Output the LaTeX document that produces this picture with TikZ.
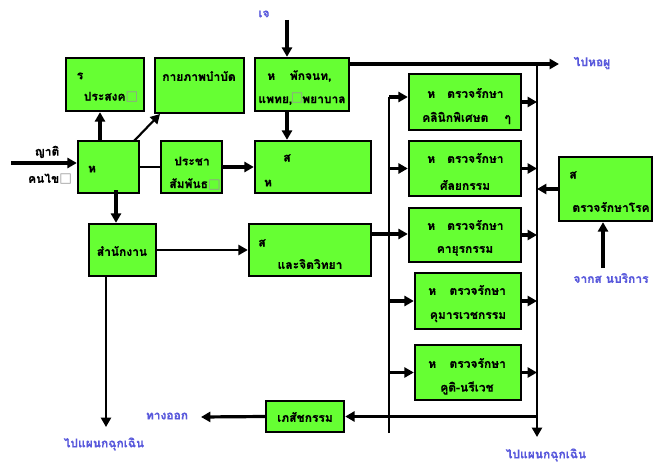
\documentclass[tikz,border=0pt]{standalone}
\usepackage{fontspec}
\newfontfamily\thaifont[Script=Thai,BoldFeatures={FakeBold=0.6}]{Loma}
\newfontfamily\symfont{DejaVu Sans}
\usetikzlibrary{arrows.meta}
\definecolor{boxgreen}{RGB}{102,255,51}
\definecolor{linkblue}{RGB}{88,88,220}
\definecolor{glyphgray}{RGB}{150,150,150}
% placeholder square for a glyph the original font could not show
\newcommand{\nog}{{\symfont\fontsize{10pt}{10pt}\selectfont\textcolor{glyphgray}{□}}}
% box from its corner coordinates (x1,y1) (x2,y2)
\newcommand{\boxat}[5]{\node[blk,minimum width={(#4-#2)*0.75pt},minimum height={(#5-#3)*0.75pt}] (#1) at ({(#2+#4)/2},{(#3+#5)/2}) {};}
\tikzset{
  blk/.style={draw=black,line width=1.8pt,fill=boxgreen,inner sep=0pt},
  txt/.style={font={\thaifont\bfseries\fontsize{9pt}{11pt}\selectfont},inner sep=0pt,text=black},
  lbl/.style={txt,text=linkblue},
  tip/.style={-{Triangle[length=7pt,width=7.5pt]}},
  thk/.style={line width=2.4pt},
  thn/.style={line width=1.6pt},
}
\begin{document}
\begin{tikzpicture}[x=0.75pt,y=-0.75pt]
\fill[white] (0,0) rectangle (653,467);
\useasboundingbox (0,0) rectangle (653,467);

% ---- boxes ----
\boxat{A}{66}{58}{144}{111}
\boxat{B}{155}{58}{244}{113}
\boxat{C}{255}{58}{349}{111}
\boxat{D}{78}{141}{139}{193}
\boxat{E}{161}{141}{222}{193}
\boxat{F}{255}{141}{371}{193}
\boxat{G}{89}{224}{156}{276}
\boxat{H}{249}{224}{371}{276}
\boxat{I}{409}{74}{521}{130}
\boxat{J}{409}{141}{521}{196}
\boxat{K}{409}{208}{521}{262}
\boxat{L}{415}{273}{521}{329}
\boxat{M}{415}{345}{521}{400}
\boxat{N}{559}{157}{652}{221}
\boxat{O}{266}{401}{344}{432}

% ---- box texts ----
\node[txt] (a1) at (80,76) {ร};
\node[txt] (a2) at (111,97) {ประสงค\nog};
\node[txt] (b1) at (199,76) {กายภาพบำบัด};
\node[txt,anchor=west] (c1) at (267,76) {ห\hspace{11pt}พักจนท,};
\node[txt] (c2) at (302,99) {แพทย,\hspace{-1pt}\raisebox{1pt}{\nog}\hspace{-1pt}พยาบาล};
\node[txt] (d1) at (92,169) {ห};
\node[txt] (e1) at (192,161) {ประชา};
\node[txt] (e2) at (195,184) {สัมพันธ\nog};
\node[txt] (f1) at (287,158) {ส};
\node[txt] (f2) at (268,183) {ห};
\node[txt] (g1) at (122,251) {สำนักงาน};
\node[txt] (h1) at (262,243) {ส};
\node[txt] (h2) at (310,264) {และจิตวิทยา};
\node[txt,anchor=west] (i1) at (427,93) {ห\hspace{9pt}ตรวจรักษา};
\node[txt,anchor=west] (i2) at (422,118) {คลินิกพิเศษต\hspace{12pt}ๆ};
\node[txt,anchor=west] (j1) at (427,158) {ห\hspace{9pt}ตรวจรักษา};
\node[txt] (j2) at (465,185) {ศัลยกรรม};
\node[txt,anchor=west] (k1) at (427,225) {ห\hspace{9pt}ตรวจรักษา};
\node[txt] (k2) at (465,251) {คายุรกรรม};
\node[txt,anchor=west] (l1) at (428,290) {ห\hspace{10pt}ตรวจรักษา};
\node[txt] (l2) at (468,317) {คุมารเวชกรรม};
\node[txt,anchor=west] (m1) at (428,363) {ห\hspace{10pt}ตรวจรักษา};
\node[txt] (m2) at (467,388) {คูติ-นรีเวช};
\node[txt] (n1) at (573,175) {ส};
\node[txt] (n2) at (611,207) {ตรวจรักษาโรค};
\node[txt] (o1) at (305,417) {เภสัชกรรม};

% ---- free labels ----
\node[lbl] (lj) at (264,14) {เจ};
\node[lbl] (lward) at (592,63) {ไปหอผู};
\node[txt] (lrel) at (47,152) {ญาติ};
\node[txt] (lpat) at (50,179) {คนไข\nog};
\node[lbl] (ler1) at (104,444) {ไปแผนกฉุกเฉิน};
\node[lbl] (lexit) at (167,416) {ทางออก};
\node[lbl] (ler2) at (546,455) {ไปแผนกฉุกเฉิน};
\node[lbl] (lsrv) at (611,278) {จากส นบริการ};

% ---- connector end points ----
\coordinate (pin) at (11,163);
\coordinate (dA) at (100,141);
\coordinate (dB) at (134,141);
\coordinate (bB) at (160,114);
\coordinate (top) at (287,20);
\coordinate (cF) at (287,111);
\coordinate (dG) at (116,190);
\coordinate (gOut) at (106,276);
\coordinate (gEnd) at (106,427);
\coordinate (cTop) at (349,64);
\coordinate (wardEnd) at (559,64);
\coordinate (rTop) at (537,64);
\coordinate (rBot) at (537,437);
\coordinate (lTop) at (389,97);
\coordinate (lBot) at (389,433);
\coordinate (hK) at (371,234);
\coordinate (nIn) at (603,268);
\coordinate (exitEnd) at (201,417);

% ---- connectors ----
\draw[thk,tip] (pin) -- (pin -| D.west);
\draw[thk,tip] (dA) -- (dA |- A.south);
\draw[thn,tip] (dB) -- (bB);
\draw[thn] (D.east) -- (E.west);
\draw[thk,tip] (E.east) -- (F.west);
\draw[thk,tip] (top) -- (top |- C.north);
\draw[thk,tip] (cF) -- (cF |- F.north);
\draw[thk,tip] (dG) -- (dG |- G.north);
\draw[thn,tip] (G.east) -- (H.west);
\draw[thn,tip] (gOut) -- (gEnd);
\draw[thk,tip] (cTop) -- (wardEnd);
\draw[thn,tip] (rTop) -- (rBot);
\draw[thk,tip] (hK) -- (hK -| K.west);
% left distribution bus
\draw[thn] (lBot) -- (lTop);
\draw[thk,tip] (lTop) -- (lTop -| I.west);
\draw[thk,tip] (J.west -| lTop) -- (J.west);
\draw[thk,tip] (L.west -| lTop) -- (L.west);
\draw[thn,tip] (M.west -| lTop) -- (M.west);
% clinics into the right bus
\draw[thk,tip] (I.east) -- (I.east -| rTop);
\draw[thk,tip] (J.east) -- (J.east -| rTop);
\draw[thk,tip] (K.east) -- (K.east -| rTop);
\draw[thk,tip] (L.east) -- (L.east -| rTop);
\draw[thk,tip] (M.east) -- (M.east -| rTop);
\draw[thk,tip] (N.west) -- (N.west -| rTop);
\draw[thk,tip] (nIn) -- (nIn |- N.south);
% pharmacy and exit
\draw[thk,tip] (O.east -| rTop) -- (O.east);
\draw[thk,tip] (O.west) -- (exitEnd);
\end{tikzpicture}
\end{document}
